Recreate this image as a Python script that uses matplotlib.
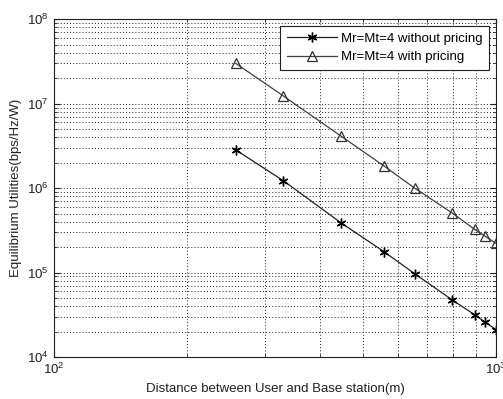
import matplotlib
matplotlib.use("Agg")
import matplotlib.pyplot as plt
from matplotlib.ticker import LogLocator, LogFormatterMathtext, NullFormatter

plt.rcParams['font.family'] = ['Liberation Sans', 'DejaVu Sans']
plt.rcParams['mathtext.default'] = 'regular'

distance = [258, 330, 447, 558, 655, 794, 895, 944, 1000]
without_pricing = [2.83e6, 1.23e6, 3.86e5, 1.77e5, 9.7e4, 4.8e4, 3.17e4, 2.6e4, 2.12e4]
with_pricing = [2.99e7, 1.24e7, 4.1e6, 1.83e6, 1.0e6, 5.13e5, 3.25e5, 2.71e5, 2.22e5]
labels = ['Mr=Mt=4 without pricing', 'Mr=Mt=4 with pricing']

fig = plt.figure(figsize=(5.03, 3.99), dpi=100)
ax = fig.add_axes([0.107, 0.105, 0.879, 0.847])

ax.loglog(distance, without_pricing, color='#202020', lw=0.9, marker=(6, 2, 0),
          ms=7, mfc='black', mec='black', mew=1.0, label=labels[0])
ax.loglog(distance, with_pricing, color='#404040', lw=0.9, marker='^',
          ms=7, mfc='none', mec='#303030', mew=0.9, label=labels[1])

ax.set_xlim(100, 1000)
ax.set_ylim(1e4, 1e8)
ax.xaxis.set_major_locator(LogLocator(base=10, numticks=10))
ax.yaxis.set_major_locator(LogLocator(base=10, numticks=10))
ax.xaxis.set_minor_locator(LogLocator(base=10, subs=range(2, 10), numticks=10))
ax.yaxis.set_minor_locator(LogLocator(base=10, subs=range(2, 10), numticks=10))
ax.xaxis.set_major_formatter(LogFormatterMathtext())
ax.yaxis.set_major_formatter(LogFormatterMathtext())
ax.xaxis.set_minor_formatter(NullFormatter())
ax.yaxis.set_minor_formatter(NullFormatter())

ax.grid(True, which='both', linestyle=(0, (1, 2.2)), color='#202020', lw=0.7)
ax.tick_params(which='both', direction='in', top=True, right=True, colors='#202020',
               labelsize=9.5)
ax.tick_params(which='major', length=4)
ax.tick_params(which='minor', length=2)
for s in ax.spines.values():
    s.set_color('#202020')
    s.set_linewidth(0.8)

ax.set_xlabel('Distance between User and Base station(m)', fontsize=9.5, color='#202020')
ax.set_ylabel('Equilibrium Utilities(bps/Hz/W)', fontsize=9.5, color='#202020')

leg = ax.legend(loc='upper right', fontsize=9.5, fancybox=False, framealpha=1,
                edgecolor='#202020', borderaxespad=0.5, handlelength=3.8,
                handletextpad=0.3, borderpad=0.5, labelspacing=0.5)
leg.get_frame().set_linewidth(0.8)

fig.savefig('out.png', dpi=100)
